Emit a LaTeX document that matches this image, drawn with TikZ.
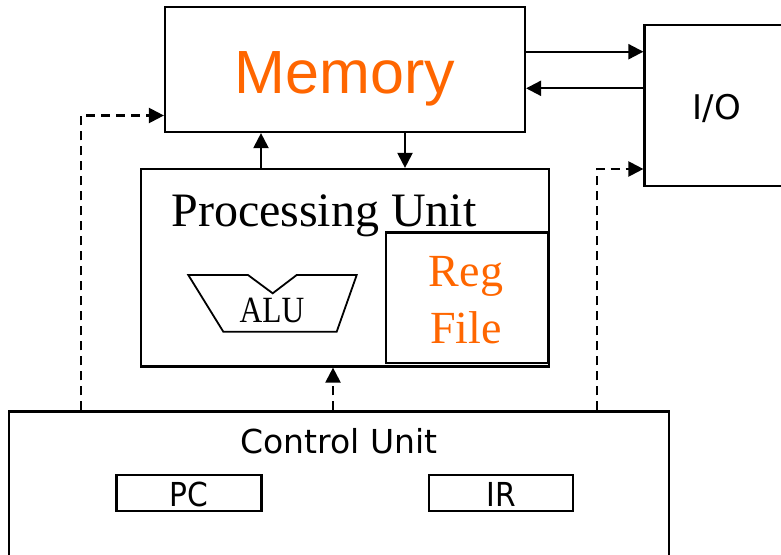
\documentclass[tikz,border=0pt]{standalone}
\usepackage{fontspec}
\usepackage{graphicx}
\setmainfont{Liberation Serif}
\newfontfamily\arialfont{Liberation Sans}
\newfontfamily\tahfont{DejaVu Sans}
\usetikzlibrary{arrows.meta,calc}
\definecolor{memorange}{HTML}{FF6600}
\begin{document}
\begin{tikzpicture}[x=1pt,y=-1pt,
  box/.style={draw,line width=2.2pt,rectangle,inner sep=0pt},
  arr/.style={line width=2.2pt,-{Triangle[length=15pt,width=15pt]}},
  dasharr/.style={line width=2.2pt,dash pattern=on 9pt off 6pt,-{Triangle[length=15pt,width=15pt]}},
  txt/.style={inner sep=0pt,anchor=base}]
\useasboundingbox (0,0) rectangle (781,554);
\clip (0,0) rectangle (781,554);
% boxes
\node[box,minimum width=360pt,minimum height=125pt] (mem) at (345,69.5) {};
\node[box,minimum width=146pt,minimum height=161pt] (io) at (717.5,105.5) {};
\node[box,minimum width=408pt,minimum height=197.5pt] (pu) at (345,267.75) {};
\node[box,minimum width=162pt,minimum height=130.5pt] (rf) at (466.7,297.75) {};
\node[box,minimum width=660pt,minimum height=190pt] (cu) at (339,506.5) {};
\node[box,minimum width=145pt,minimum height=36pt] (pc) at (189,493) {};
\node[box,minimum width=144pt,minimum height=36pt] (ir) at (501,493) {};
% texts
\node[txt,text=memorange] (memt) at (345,93.3) {\arialfont\fontsize{61}{70}\selectfont Memory};
\node[txt] (iot) at (717,119) {\tahfont\fontsize{34}{40}\selectfont I/O};
\node[txt] (put) at (324,226.7) {\fontsize{48}{56}\selectfont Processing Unit};
\node[txt,text=memorange] (regt) at (466,286.7) {\fontsize{46}{54}\selectfont Reg};
\node[txt,text=memorange] (filet) at (466,343.3) {\fontsize{46}{54}\selectfont File};
\node[txt] (cut) at (339,453.3) {\tahfont\fontsize{33}{40}\selectfont Control Unit};
\node[txt] (pct) at (189,506) {\tahfont\fontsize{33}{40}\selectfont\scalebox{0.9}[1]{PC}};
\node[txt] (irt) at (501,506) {\tahfont\fontsize{33}{40}\selectfont\scalebox{0.9}[1]{IR}};
% ALU shape
\draw[line width=1.8pt,line join=miter] (188.3,275) -- (248,275) -- (272.7,293.3) -- (296.7,275) -- (356.7,275) -- (336.7,331.7) -- (223.3,331.7) -- cycle;
\node[txt] (alut) at (272,322) {\fontsize{37}{42}\selectfont\scalebox{0.85}[1]{ALU}};
% helper coordinates
\coordinate (ya) at (0,51.7);
\coordinate (yb) at (0,88.3);
\coordinate (xu) at (261,0);
\coordinate (xd) at (405,0);
\coordinate (dl) at (81,115.5);
\coordinate (dm) at (333,0);
\coordinate (dr) at (597,169);
% connectors
\draw[arr] (mem.east |- ya) -- (io.west |- ya);
\draw[arr] (io.west |- yb) -- (mem.east |- yb);
\draw[arr] (pu.north -| xu) -- (mem.south -| xu);
\draw[arr] (mem.south -| xd) -- (pu.north -| xd);
\draw[dasharr] (cu.north -| dl) |- (mem.west |- dl);
\draw[dasharr] (cu.north -| dm) -- (pu.south -| dm);
\draw[dasharr] (cu.north -| dr) |- (io.west |- dr);
\end{tikzpicture}
\end{document}
